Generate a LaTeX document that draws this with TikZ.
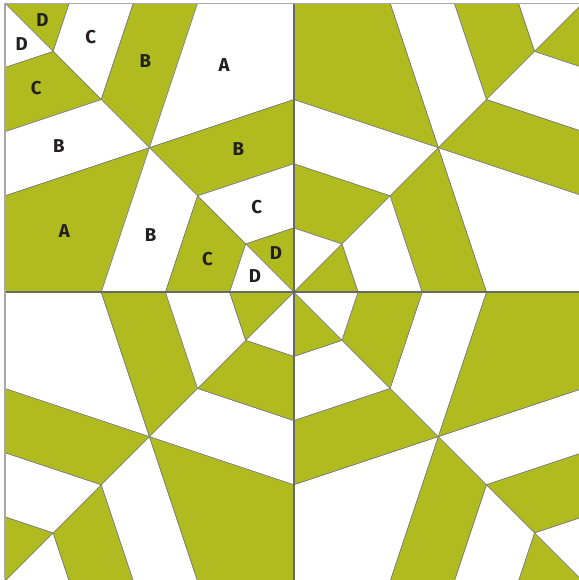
\documentclass[tikz,border=0pt]{standalone}
\usepackage{fontspec}
\setmainfont{Fira Sans}
\usepackage{tikz}
\definecolor{QuiltGreen}{RGB}{175,187,31}
\definecolor{SeamGrey}{RGB}{122,122,122}
\definecolor{FrameGrey}{RGB}{168,168,168}
\definecolor{LabelInk}{RGB}{35,31,32}

\begin{document}
\begin{tikzpicture}[x=1cm,y=-1cm,
    patch/.style={draw=SeamGrey,line width=0.55pt,line join=round},
    letter/.style={text=LabelInk,inner sep=0pt,
      font=\fontsize{16.5}{16.5}\selectfont\bfseries}]
  \useasboundingbox (-0.156,-0.103) rectangle (17.88,17.97);
  % four blocks, mirrored; the two off-diagonal ones swap colours
  \foreach \shx/\shy/\sx/\sy/\ca/\cb in
      {0/0/1/1/QuiltGreen/white, 18/0/-1/1/white/QuiltGreen,
       0/18/1/-1/white/QuiltGreen, 18/18/-1/-1/QuiltGreen/white}{
    \begin{scope}[shift={(\shx,\shy)},xscale=\sx,yscale=\sy]
      % above the diagonal
      \filldraw[patch,fill=\ca] (0,0) -- (2,0) -- (1.5,1.5) -- cycle;
      \filldraw[patch,fill=\cb] (2,0) -- (4,0) -- (3,3) -- (1.5,1.5) -- cycle;
      \filldraw[patch,fill=\ca] (4,0) -- (6,0) -- (4.5,4.5) -- (3,3) -- cycle;
      \filldraw[patch,fill=\cb] (6,0) -- (9,0) -- (9,3) -- (4.5,4.5) -- cycle;
      \filldraw[patch,fill=\ca] (4.5,4.5) -- (9,3) -- (9,5) -- (6,6) -- cycle;
      \filldraw[patch,fill=\cb] (6,6) -- (9,5) -- (9,7) -- (7.5,7.5) -- cycle;
      \filldraw[patch,fill=\ca] (7.5,7.5) -- (9,7) -- (9,9) -- cycle;
      % below the diagonal
      \filldraw[patch,fill=\cb] (0,0) -- (1.5,1.5) -- (0,2) -- cycle;
      \filldraw[patch,fill=\ca] (0,2) -- (1.5,1.5) -- (3,3) -- (0,4) -- cycle;
      \filldraw[patch,fill=\cb] (0,4) -- (3,3) -- (4.5,4.5) -- (0,6) -- cycle;
      \filldraw[patch,fill=\ca] (0,6) -- (4.5,4.5) -- (3,9) -- (0,9) -- cycle;
      \filldraw[patch,fill=\cb] (4.5,4.5) -- (6,6) -- (5,9) -- (3,9) -- cycle;
      \filldraw[patch,fill=\ca] (6,6) -- (7.5,7.5) -- (7,9) -- (5,9) -- cycle;
      \filldraw[patch,fill=\cb] (7.5,7.5) -- (9,9) -- (7,9) -- cycle;
    \end{scope}
  }
  % block seams and frame
  \draw[SeamGrey!85!black,line width=1.4pt] (9,0) -- (9,18);
  \draw[SeamGrey!85!black,line width=1.4pt] (0,9) -- (18,9);
  \draw[FrameGrey,line width=1.3pt] (0,17.9) -- (0,0) -- (17.9,0);
  % piece letters, top-left block
  \node[letter] (upD) at (1.17,0.51) {D};
  \node[letter] (upC) at (2.67,1.06) {C};
  \node[letter] (upB) at (4.37,1.80) {B};
  \node[letter] (upA) at (6.83,1.91) {A};
  \node[letter] (inB) at (7.27,4.53) {B};
  \node[letter] (inC) at (7.84,6.34) {C};
  \node[letter] (inD) at (8.44,7.79) {D};
  \node[letter] (loD) at (0.52,1.26) {D};
  \node[letter] (loC) at (0.97,2.63) {C};
  \node[letter] (loB) at (1.68,4.44) {B};
  \node[letter] (loA) at (1.85,7.09) {A};
  \node[letter] (lnB) at (4.54,7.23) {B};
  \node[letter] (lnC) at (6.31,7.98) {C};
  \node[letter] (lnD) at (7.79,8.50) {D};
\end{tikzpicture}
\end{document}
